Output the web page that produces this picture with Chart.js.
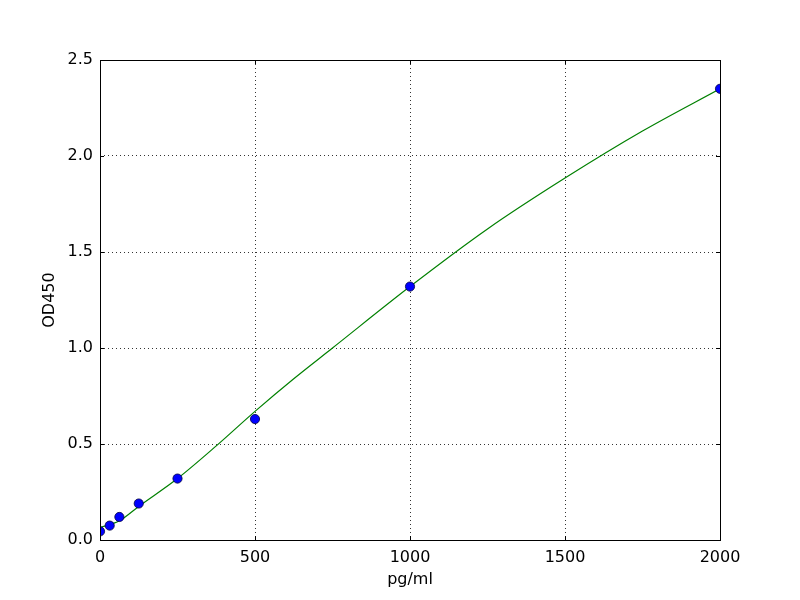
<!DOCTYPE html>
<html>
<head>
<meta charset="utf-8">
<script src="https://cdn.jsdelivr.net/npm/chart.js@4"></script>
<style>
  html, body { margin: 0; padding: 0; background: #fff; }
  #wrap { width: 800px; height: 600px; }
</style>
</head>
<body>
<div id="wrap"><canvas id="chart" width="800" height="600"></canvas></div>
<script>
// --------------------------------
// Data
// --------------------------------

const standardConc = [0, 31.25, 62.5, 125, 250, 500, 1000, 2000];
const standardOD = [0.045, 0.075, 0.12, 0.19, 0.32, 0.63, 1.32, 2.35];

// fitted curve
const curveConc = [0, 62.5, 125, 250, 375, 500, 625, 750, 1000, 1250, 1500, 1750, 2000];
const curveOD = [0.065, 0.1, 0.175, 0.32, 0.49, 0.67, 0.84, 1.0, 1.32, 1.62, 1.885, 2.13, 2.35];

const xTicks = [0, 500, 1000, 1500, 2000];
const yTicks = [0.0, 0.5, 1.0, 1.5, 2.0, 2.5];

const canvas = document.getElementById('chart');
const fontFamily = 'DejaVu Sans';

// inward tick marks + frame, like the matplotlib look
const frameTicks = {
    id: 'frameTicks',
    afterDatasetsDraw(chart) {
        const ctx = chart.ctx;
        const area = chart.chartArea;
        const xs = chart.scales.x;
        const ys = chart.scales.y;
        ctx.save();
        ctx.strokeStyle = '#000';
        ctx.lineWidth = 1;
        ctx.beginPath();
        xTicks.forEach(v => {
            const px = Math.round(xs.getPixelForValue(v)) + 0.5;
            ctx.moveTo(px, area.bottom); ctx.lineTo(px, area.bottom - 4);
            ctx.moveTo(px, area.top); ctx.lineTo(px, area.top + 4);
        });
        yTicks.forEach(v => {
            const py = Math.round(ys.getPixelForValue(v)) + 0.5;
            ctx.moveTo(area.left, py); ctx.lineTo(area.left + 4, py);
            ctx.moveTo(area.right, py); ctx.lineTo(area.right - 4, py);
        });
        ctx.stroke();
        ctx.strokeRect(Math.round(area.left) + 0.5, Math.round(area.top) + 0.5,
            Math.round(area.right - area.left), Math.round(area.bottom - area.top));
        ctx.restore();
    }
};

const chart = new Chart(canvas, {
    type: 'scatter',
    data: {
        datasets: [{
            label: 'standards',
            data: standardConc.map((c, i) => ({ x: c, y: standardOD[i] })),
            backgroundColor: '#0000ff',
            borderColor: '#00003f',
            borderWidth: 0.8,
            pointRadius: 4.6,
            order: 0
        }, {
            type: 'line',
            label: 'fit',
            data: curveConc.map((c, i) => ({ x: c, y: curveOD[i] })),
            borderColor: '#008000',
            borderWidth: 1.2,
            pointRadius: 0,
            fill: false,
            cubicInterpolationMode: 'monotone',
            order: 1
        }]
    },
    options: {
        responsive: false,
        animation: false,
        layout: {
            padding: { top: 60, right: 80, left: 40, bottom: 0 }
        },
        plugins: {
            legend: { display: false },
            tooltip: { enabled: false }
        },
        scales: {
            x: {
                type: 'linear',
                min: 0,
                max: 2000,
                afterBuildTicks: s => { s.ticks = xTicks.map(v => ({ value: v })); },
                afterFit: s => { s.height = 60; },
                grid: {
                    color: '#000',
                    lineWidth: 0.8,
                    drawTicks: false
                },
                border: { display: false, dash: [1, 3] },
                ticks: {
                    color: '#000',
                    padding: 8,
                    maxRotation: 0,
                    font: { family: fontFamily, size: 16 },
                    callback: v => String(v)
                },
                title: {
                    display: true,
                    text: 'pg/ml',
                    color: '#000',
                    padding: { top: 4, bottom: 11 },
                    font: { family: fontFamily, size: 16 }
                }
            },
            y: {
                type: 'linear',
                min: 0,
                max: 2.5,
                afterBuildTicks: s => { s.ticks = yTicks.map(v => ({ value: v })); },
                afterFit: s => { s.width = 60; },
                grid: {
                    color: '#000',
                    lineWidth: 0.8,
                    drawTicks: false
                },
                border: { display: false, dash: [1, 3] },
                ticks: {
                    color: '#000',
                    padding: 7,
                    font: { family: fontFamily, size: 16 },
                    callback: v => Number(v).toFixed(1)
                },
                title: {
                    display: true,
                    text: 'OD450',
                    color: '#000',
                    padding: { top: 0, bottom: 0 },
                    font: { family: fontFamily, size: 16 }
                }
            }
        }
    },
    plugins: [frameTicks]
});
</script>
</body>
</html>
